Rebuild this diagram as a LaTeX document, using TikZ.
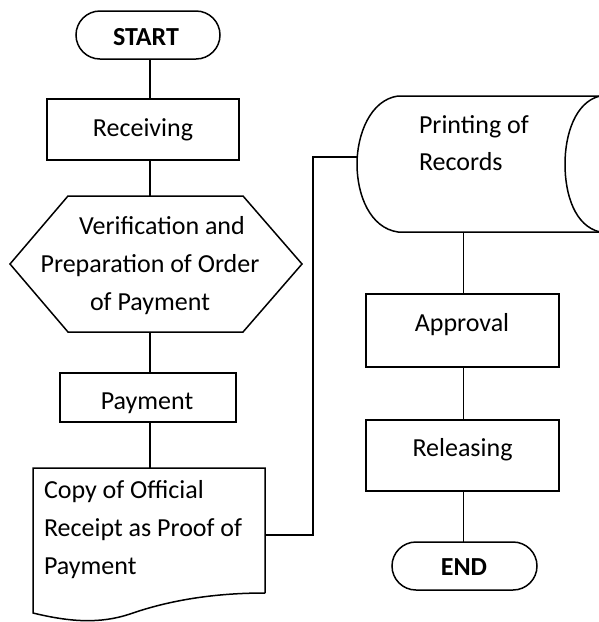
\documentclass[tikz,border=0pt]{standalone}
\usepackage{fontspec}
\setmainfont{Carlito}
\begin{document}
\begin{tikzpicture}[x=1pt,y=-1pt,line width=1.5pt,
  every node/.style={inner sep=0pt,outer sep=0pt},
  txt/.style={font=\fontsize{26}{38}\selectfont},
  boldtxt/.style={font=\fontsize{26}{38}\selectfont\bfseries},
  stepbox/.style={draw,rectangle,line width=1.5pt},
  term/.style={draw,rectangle,rounded corners=24pt,line width=1.5pt},
  frame/.style={rectangle},
  link/.style={line width=1.5pt}]
\useasboundingbox (0,0) rectangle (599,622);

% spines that the vertical connectors follow
\coordinate (spineL) at (150,0);
\coordinate (spineR) at (463.5,0);

% left column
\node[term,minimum width=144pt,minimum height=48pt] (start) at (148,35) {};
\node[boldtxt,anchor=base] (startT) at (146,45) {START};

\node[stepbox,minimum width=192pt,minimum height=61pt] (recv) at (143,129.5) {};
\node[txt,anchor=base] (recvT) at (143,136) {Receiving};

\draw (68,196) -- (243,196) -- (302,264) -- (243,332) -- (68,332) -- (10,264) -- cycle;
\node[frame,minimum width=292pt,minimum height=136pt] (verif) at (156,264) {};
% multi-line nodes are anchored on the baseline of their last line
\node[txt,align=center,anchor=base] (verifT) at (150,310)
  {\hspace*{24pt}Verification and\\Preparation of Order\\of Payment};

\node[stepbox,minimum width=176pt,minimum height=49pt] (pay) at (148,397.5) {};
\node[txt,anchor=base] (payT) at (147,409) {Payment};

% document shape with wavy bottom
\draw (265,593) -- (265,468) -- (33,468) -- (33,613)
  .. controls (70,622) and (100,624) .. (130,614)
  .. controls (170,600) and (215,593) .. (265,593);
\node[frame,minimum width=232pt,minimum height=125pt] (doc) at (149,530.5) {};
\node[txt,align=left,anchor=base west] (docT) at (44,574)
  {Copy of Official\\Receipt as Proof of\\Payment};

% right column: stored data shape
\draw (600,96) -- (398,96)
  .. controls (370,100) and (357,135) .. (357,164)
  .. controls (357,195) and (370,228) .. (398,232) -- (600,232);
\draw (600,96) .. controls (575,102) and (565,135) .. (565,164)
  .. controls (565,195) and (575,226) .. (600,232);
\node[frame,minimum width=243pt,minimum height=136pt] (store) at (478.5,164) {};
\node[txt,align=left,anchor=base west,font=\fontsize{26}{37}\selectfont] (storeT) at (419,170) {Printing of\\Records};

\node[stepbox,minimum width=193pt,minimum height=73pt] (appr) at (462.5,330.5) {};
\node[txt,anchor=base] (apprT) at (462,331) {Approval};

\node[stepbox,minimum width=193pt,minimum height=71pt] (rel) at (462.5,455.5) {};
\node[txt,anchor=base] (relT) at (462.5,456) {Releasing};

\node[term,minimum width=145pt,minimum height=48pt] (finish) at (464.5,566) {};
\node[boldtxt,anchor=base] (finishT) at (464,575) {END};

% connectors
\draw[link] (start.south -| spineL) -- (recv.north -| spineL);
\draw[link] (recv.south -| spineL) -- (verif.north -| spineL);
\draw[link] (verif.south -| spineL) -- (pay.north -| spineL);
\draw[link] (pay.south -| spineL) -- (doc.north -| spineL);
\draw[link] ([yshift=-4.5pt]doc.east) -- ++(48,0) |- ([yshift=7pt]store.west);
\draw[link] (store.south -| spineR) -- (appr.north -| spineR);
\draw[link] (appr.south -| spineR) -- (rel.north -| spineR);
\draw[link] (rel.south -| spineR) -- (finish.north -| spineR);
\end{tikzpicture}
\end{document}
